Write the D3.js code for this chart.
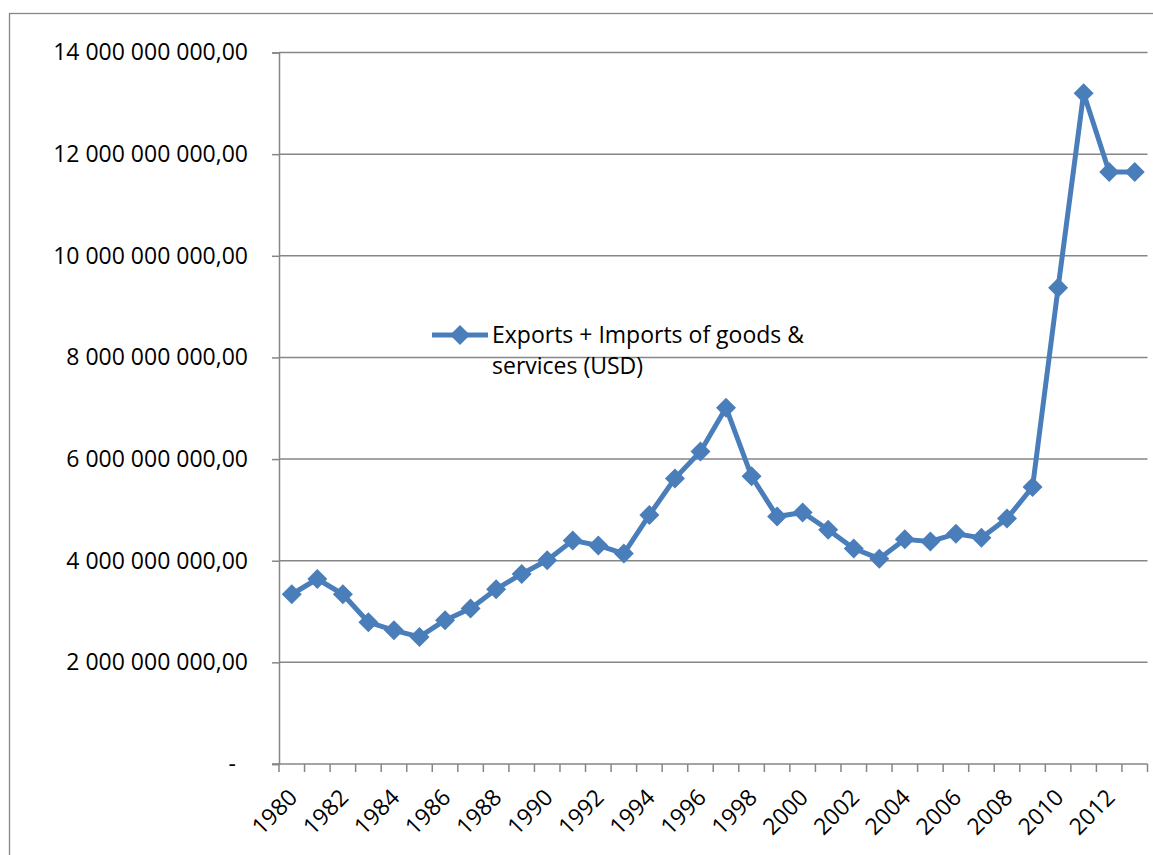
<!DOCTYPE html>
<html lang="en">
<head>
  <meta charset="UTF-8">
  <title>Exports + Imports of goods & services</title>
  <script src="https://d3js.org/d3.v7.min.js"></script>
  <style>
    body { margin: 0; background: #fff; font-family: "Open Sans", sans-serif; }
    .lbl { font-size: 23px; fill: #000; }
  </style>
</head>
<body>
  <div id="chart"></div>
  <script>
    // values, in USD
    const years = d3.range(1980, 2014).map(String);
    const values = [
      3.34e9, 3.64e9, 3.34e9, 2.79e9, 2.63e9, 2.50e9, 2.83e9, 3.06e9, 3.44e9, 3.74e9,
      4.01e9, 4.40e9, 4.30e9, 4.14e9, 4.90e9, 5.62e9, 6.15e9, 7.01e9, 5.66e9, 4.87e9,
      4.95e9, 4.61e9, 4.24e9, 4.04e9, 4.42e9, 4.38e9, 4.53e9, 4.45e9, 4.83e9, 5.45e9,
      9.37e9, 13.20e9, 11.65e9, 11.65e9
    ];
    const yTicks = [0, 2e9, 4e9, 6e9, 8e9, 10e9, 12e9, 14e9];
    const seriesName = ["Exports + Imports of goods &", "services (USD)"];

    const W = 1153, H = 855;
    const plotL = 279, plotR = 1147.5, plotT = 52.5, plotB = 764;
    const blue = "#4a7ebb", grey = "#868686";

    const svg = d3.select("#chart").append("svg")
      .attr("width", W).attr("height", H);

    // outer chart border
    svg.append("rect")
      .attr("x", 9.5).attr("y", 13.5)
      .attr("width", W + 20).attr("height", H + 20)
      .attr("fill", "none").attr("stroke", grey).attr("stroke-width", 1.3);

    const x = d3.scaleBand().domain(years).range([plotL, plotR]).padding(0);
    const y = d3.scaleLinear().domain([0, 14e9]).range([plotB, plotT]);

    const loc = d3.formatLocale({ decimal: ",", thousands: " ", grouping: [3], currency: ["", ""] });
    const fmt = loc.format(",.2f");

    // gridlines
    svg.append("g").selectAll("line")
      .data(yTicks.filter(d => d > 0))
      .join("line")
      .attr("x1", plotL).attr("x2", plotR)
      .attr("y1", d => y(d)).attr("y2", d => y(d))
      .attr("stroke", grey).attr("stroke-width", 1.5);

    // y axis
    const yAxis = svg.append("g")
      .attr("transform", `translate(${plotL},0)`)
      .call(d3.axisLeft(y).tickValues(yTicks).tickSize(7).tickPadding(24)
        .tickFormat(d => d === 0 ? "-" : fmt(d)));
    yAxis.attr("font-family", null).attr("font-size", null);
    yAxis.select(".domain").attr("stroke", grey).attr("stroke-width", 1.5);
    yAxis.selectAll(".tick line").attr("stroke", grey).attr("stroke-width", 1.5);
    yAxis.selectAll(".tick text")
      .attr("class", "lbl")
      .attr("dx", d => d === 0 ? -12 : 0);

    // x axis line and ticks at category boundaries
    svg.append("line")
      .attr("x1", plotL - 7).attr("x2", plotR)
      .attr("y1", plotB).attr("y2", plotB)
      .attr("stroke", grey).attr("stroke-width", 1.5);
    const bounds = years.map(d => x(d)).concat([plotR]);
    svg.append("g").selectAll("line")
      .data(bounds)
      .join("line")
      .attr("x1", d => d).attr("x2", d => d)
      .attr("y1", plotB).attr("y2", plotB + 8)
      .attr("stroke", grey).attr("stroke-width", 1.5);

    // x labels, every other year, rotated
    svg.append("g").selectAll("text")
      .data(years.filter((d, i) => i % 2 === 0))
      .join("text")
      .attr("class", "lbl")
      .attr("text-anchor", "end")
      .attr("transform", d => `translate(${x(d) + x.bandwidth() / 2 + 7},${plotB + 35}) rotate(-45)`)
      .text(d => d);

    // series
    const pts = years.map((yr, i) => ({ yr, v: values[i] }));
    const cx = d => x(d.yr) + x.bandwidth() / 2;
    const line = d3.line().x(cx).y(d => y(d.v));
    svg.append("path")
      .datum(pts)
      .attr("d", line)
      .attr("fill", "none").attr("stroke", blue)
      .attr("stroke-width", 5).attr("stroke-linejoin", "round");

    const diamond = d3.symbol().type(d3.symbolSquare).size(200);
    svg.append("g").selectAll("path")
      .data(pts)
      .join("path")
      .attr("d", diamond)
      .attr("transform", d => `translate(${cx(d)},${y(d.v)}) rotate(45)`)
      .attr("fill", blue);

    // legend
    const lg = svg.append("g").attr("transform", "translate(432,335)");
    lg.append("line").attr("x1", 0).attr("x2", 56).attr("y1", 0).attr("y2", 0)
      .attr("stroke", blue).attr("stroke-width", 5);
    lg.append("path").attr("d", diamond).attr("transform", "translate(28,0) rotate(45)").attr("fill", blue);
    lg.selectAll("text")
      .data(seriesName)
      .join("text")
      .attr("class", "lbl")
      .attr("x", 60)
      .attr("y", (d, i) => 8 + i * 31)
      .text(d => d);
  </script>
</body>
</html>
